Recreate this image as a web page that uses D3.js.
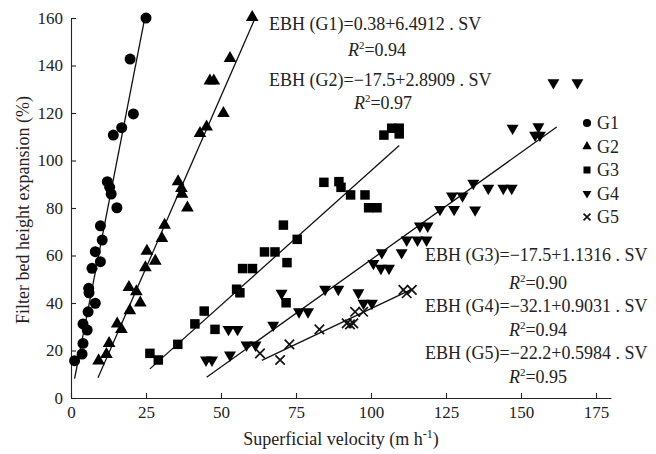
<!DOCTYPE html>
<html>
<head>
<meta charset="utf-8">
<script src="https://cdn.jsdelivr.net/npm/d3@7"></script>
<style>
  html, body { margin: 0; padding: 0; background: #fff; }
  svg { display: block; font-family: 'Liberation Serif', 'Times New Roman', serif; }
  .axis text { font-size: 17px; fill: #222; font-family: 'Liberation Serif', serif; }
  .axis path, .axis line { stroke: #222; stroke-width: 1.1; }
  .lbl { font-size: 18px; fill: #222; }
</style>
</head>
<body>
<svg id="chart" width="656" height="454"></svg>
<script>
// G1 .. G5 series (x = superficial velocity, y = EBH %)
const g1X = [1.2, 3.7, 4.0, 4.0, 5.4, 5.7, 6.0, 5.9, 7.0, 8.1, 8.1, 9.8, 9.8, 10.4, 12.1, 12.9, 13.4, 15.3, 14.1, 16.9, 20.8, 19.7, 25.0]
const g1Y = [15.7, 18.5, 23.0, 31.2, 28.6, 36.3, 44.3, 46.2, 54.6, 39.9, 61.6, 57.4, 72.5, 66.5, 91.1, 88.7, 85.9, 80.1, 110.7, 113.8, 119.6, 142.7, 160]

const g2X = [9.2, 11.8, 12.7, 15.4, 16.8, 19.6, 23.1, 19.3, 21.8, 24.8, 28.1, 25.3, 30.3, 31.2, 38.8, 35.7, 36.8, 37.0, 43.0, 45.2, 50.8, 46.3, 47.6, 53.0, 60.4]
const g2Y = [15.7, 18.4, 23.0, 31.2, 28.9, 36.8, 40.1, 46.6, 44.8, 54.9, 57.7, 61.9, 67.2, 72.8, 80.1, 91.1, 88.3, 85.9, 111.4, 114.2, 119.9, 133.5, 133.5, 143, 160.3]

const g3X = [26.3, 29.1, 35.6, 41.3, 44.4, 48.0, 55.2, 56.3, 57.2, 60.5, 64.5, 68.0, 72.0, 71.7, 70.8, 75.4, 84.3, 89.3, 90.0, 93.2, 98.0, 99.2, 102.0, 104.3, 106.9, 109.4, 109.4]
const g3Y = [18.8, 16.0, 22.6, 31.2, 36.6, 28.9, 45.8, 44.3, 54.5, 54.5, 61.5, 61.5, 57.0, 40.1, 72.8, 66.8, 90.8, 91.1, 88.7, 85.5, 85.5, 80.1, 80.1, 110.7, 113.6, 113.6, 111.2]

const g4X = [45.0, 47.0, 53.0, 52.5, 55.5, 58.5, 61.5, 67.4, 70.2, 76.0, 79.0, 84.7, 89.1, 95.8, 97.5, 100.3, 100.8, 103.3, 106.0, 103.6, 110.2, 111.9, 115.5, 118.5, 116.3, 118.9, 123.0, 127.7, 134.7, 127.0, 130.5, 134.1, 139.1, 144.1, 146.9, 147.2, 155.8, 154.7, 156.3, 160.8, 168.8]
const g4Y = [16.0, 16.0, 18.1, 28.9, 28.9, 22.3, 22.3, 30.7, 44.1, 36.3, 36.3, 45.8, 45.8, 44.3, 39.9, 39.9, 56.7, 54.6, 54.6, 61.2, 61.2, 66.5, 66.5, 66.5, 72.4, 72.4, 79.4, 79.4, 79.2, 85.1, 85.1, 90.4, 88.3, 88.3, 88.3, 113.6, 114.2, 110.7, 110.7, 132.8, 132.8]

const g5X = [63.0, 69.7, 72.8, 82.8, 91.9, 93.0, 94.1, 94.7, 97.4, 110.8, 113.6, 111.9]
const g5Y = [18.8, 16.0, 22.6, 28.9, 31.4, 31.0, 31.4, 36.3, 36.3, 45.5, 45.5, 44.1]

// fitted lines: EBH = a + b . SV, drawn over [xFrom, xTo]
const groups     = ['G1', 'G2', 'G3', 'G4', 'G5']
const intercepts = [0.38, -17.5, -17.5, -32.1, -22.2]
const slopes     = [6.4912, 2.8909, 1.1316, 0.9031, 0.5984]
const fitFrom    = [1.2, 9.0, 26.3, 45.2, 63.6]
const fitTo      = [24.6, 61.5, 109.4, 161.9, 113.0]
const r2         = ['0.94', '0.97', '0.90', '0.94', '0.95']
const eqText     = ['0.38+6.4912', '\u221217.5+2.8909', '\u221217.5+1.1316', '\u221232.1+0.9031', '\u221222.2+0.5984']

const xTicks = [0, 25, 50, 75, 100, 125, 150, 175]
const yTicks = [0, 20, 40, 60, 80, 100, 120, 140, 160]

const svg = d3.select('#chart')

const x = d3.scaleLinear().domain([0, 180]).range([71, 611])
const y = d3.scaleLinear().domain([0, 160]).range([398, 18])

// axes, ticks pointing inward
svg.append('g').attr('class', 'axis')
  .attr('transform', `translate(0,${y(0)})`)
  .call(d3.axisBottom(x).tickValues(xTicks).tickSize(-5).tickSizeOuter(0).tickPadding(8))

svg.append('g').attr('class', 'axis')
  .attr('transform', `translate(${x(0)},0)`)
  .call(d3.axisLeft(y).tickValues(yTicks).tickSize(-5).tickSizeOuter(0).tickPadding(8))

svg.selectAll('.axis .domain').attr('fill', 'none')

// axis titles
const xt = svg.append('text').attr('class', 'lbl')
  .attr('x', 341).attr('y', 445).attr('text-anchor', 'middle')
xt.append('tspan').text('Superficial velocity (m h')
xt.append('tspan').attr('dy', -7).attr('font-size', 12).text('-1')
xt.append('tspan').attr('dy', 7).text(')')

svg.append('text').attr('class', 'lbl')
  .attr('font-size', 16)
  .attr('transform', 'translate(29,210) rotate(-90)')
  .attr('text-anchor', 'middle')
  .text('Filter bed height expansion (%)')

// regression lines
const fits = groups.map((g, i) => ({ a: intercepts[i], b: slopes[i], x0: fitFrom[i], x1: fitTo[i] }))
svg.append('g').selectAll('line')
  .data(fits).join('line')
  .attr('x1', d => x(d.x0)).attr('y1', d => y(d.a + d.b * d.x0))
  .attr('x2', d => x(d.x1)).attr('y2', d => y(d.a + d.b * d.x1))
  .attr('stroke', '#111').attr('stroke-width', 1.3)

// markers
const symbols = [
  { type: d3.symbolCircle,   size: 95, rot: 0 },
  { type: d3.symbolTriangle, size: 70, rot: 0 },
  { type: d3.symbolSquare,   size: 90, rot: 0 },
  { type: d3.symbolTriangle, size: 62, rot: 180 },
  { type: d3.symbolTimes,    size: 60, rot: 0 },
]
const seriesX = [g1X, g2X, g3X, g4X, g5X]
const seriesY = [g1Y, g2Y, g3Y, g4Y, g5Y]

const drawMark = (sel, s, scale) => {
  sel.attr('d', d3.symbol().type(s.type).size(s.size * scale)())
  if (s.type === d3.symbolTimes) {
    sel.attr('fill', 'none').attr('stroke', '#111').attr('stroke-width', 1.7)
  } else {
    sel.attr('fill', '#000')
  }
}

groups.forEach((g, i) => {
  const pts = seriesX[i].map((v, k) => [v, seriesY[i][k]])
  const s = symbols[i]
  svg.append('g').selectAll('path')
    .data(pts).join('path')
    .attr('transform', d => `translate(${x(d[0])},${y(d[1])}) rotate(${s.rot})`)
    .call(sel => drawMark(sel, s, 1))
})

// legend
const legend = svg.append('g')
groups.forEach((g, i) => {
  const ly = 123 + i * 23.5
  legend.append('path')
    .attr('transform', `translate(587,${ly}) rotate(${symbols[i].rot})`)
    .call(sel => drawMark(sel, symbols[i], 0.55))
  legend.append('text').attr('class', 'lbl')
    .attr('x', 597).attr('y', ly).attr('dy', '0.35em')
    .text(g)
})

// equations
const eqPos = [
  { x: 269, y: 30,  rx: 377, ry: 56 },
  { x: 269, y: 86,  rx: 383, ry: 109 },
  { x: 425, y: 261, rx: 538, ry: 289 },
  { x: 425, y: 312, rx: 538, ry: 336 },
  { x: 425, y: 359, rx: 538, ry: 383 },
]
groups.forEach((g, i) => {
  const p = eqPos[i]
  svg.append('text').attr('class', 'lbl')
    .attr('x', p.x).attr('y', p.y)
    .text(`EBH (${g})=${eqText[i]} . SV`)
  const r = svg.append('text').attr('class', 'lbl')
    .attr('x', p.rx).attr('y', p.ry).attr('text-anchor', 'middle')
  r.append('tspan').attr('font-style', 'italic').text('R')
  r.append('tspan').attr('dy', -7).attr('font-size', 11).text('2')
  r.append('tspan').attr('dy', 7).text(`=${r2[i]}`)
})
</script>
</body>
</html>
